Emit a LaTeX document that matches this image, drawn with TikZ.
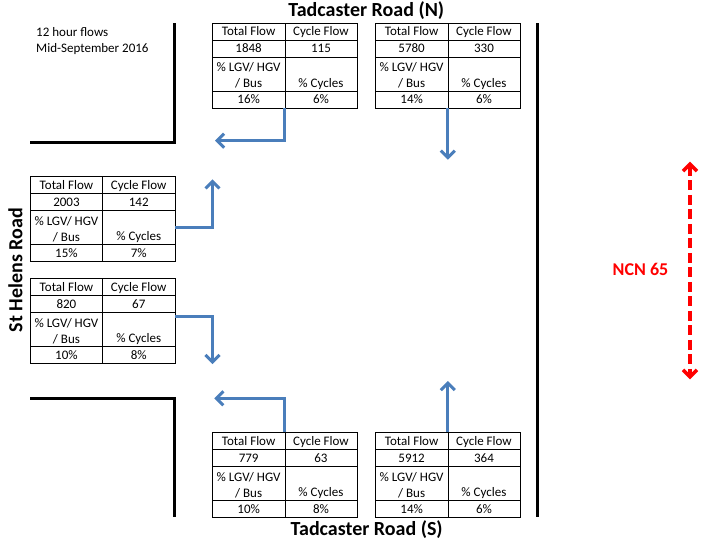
\documentclass[tikz,border=0pt]{standalone}
\usepackage{fontspec}
\setmainfont{Carlito}
\usepackage{tikz}
\usetikzlibrary{positioning, arrows.meta}
\definecolor{flowblue}{HTML}{4A7EBB}

% one count table: name, top left corner, total, cycle, lgv, cycles
\newcommand{\flowtable}[6]{%
  \node[cell, anchor=north west] (#1-a) at #2 {Total Flow};
  \node[cell, right=0pt of #1-a] (#1-b) {Cycle Flow};
  \node[cell, below=0pt of #1-a] (#1-c) {#3};
  \node[cell, below=0pt of #1-b] (#1-d) {#4};
  \node[tallcell, below=0pt of #1-c] (#1-e) {\rule{0pt}{13pt}\% LGV/ HGV\\/ Bus};
  \node[tallcell, below=0pt of #1-d] (#1-f) {\rule{0pt}{13pt}\\\% Cycles};
  \node[cell, below=0pt of #1-e] (#1-g) {#5};
  \node[cell, below=0pt of #1-f] (#1-h) {#6};
}

\begin{document}
\begin{tikzpicture}[x=1pt, y=-1pt, font=\fontsize{13}{16}\selectfont,
    cell/.style={draw, thin, inner sep=0pt, outer sep=0pt, minimum width=72.3pt, minimum height=17pt, text height=9.5pt, text depth=0pt},
    tallcell/.style={draw, thin, inner sep=0pt, outer sep=0pt, minimum width=72.3pt, minimum height=34pt, align=center},
    kerb/.style={line width=3pt},
    flow/.style={flowblue, line width=3pt, -{Straight Barb[length=7pt, width=14pt]}},
    route/.style={red, line width=3.5pt, dash pattern=on 10pt off 4.5pt, {Straight Barb[length=7pt, width=14pt]}-{Straight Barb[length=7pt, width=14pt]}},
    title/.style={font=\fontsize{20}{24}\selectfont\bfseries}]
  \useasboundingbox (0,0) rectangle (702,544);

  % Road edges
  \draw[kerb] (30,142.7) -| (174,23);
  \draw[kerb] (30,398.7) -| (174,517.3);
  \draw[kerb] (537.3,23) -- (537.3,517.3);

  % Labels
  \node[anchor=base west] (info1) at (32.7,36) {12 hour flows};
  \node[anchor=base west] (info2) at (32.7,52.7) {Mid-September 2016};
  \node[title, anchor=base] (tadn) at (366.3,16.7) {Tadcaster Road (N)};
  \node[title, anchor=base] (tads) at (366.7,535.7) {Tadcaster Road (S)};
  \node[title, anchor=base, rotate=90] (sthelens) at (22.5,270) {St Helens Road};
  \node[anchor=base, red, font=\fontsize{18}{22}\selectfont\bfseries] (ncn) at (640.5,275) {NCN 65};

  % Tables
  \flowtable{tn1}{(212.5,22.7)}{1848}{115}{16\%}{6\%}
  \flowtable{tn2}{(375.5,22.7)}{5780}{330}{14\%}{6\%}
  \flowtable{sh1}{(30.3,176)}{2003}{142}{15\%}{7\%}
  \flowtable{sh2}{(30.3,278)}{820}{67}{10\%}{8\%}
  \flowtable{ts1}{(212.5,432)}{779}{63}{10\%}{8\%}
  \flowtable{ts2}{(375.5,432)}{5912}{364}{14\%}{6\%}

  % Turning movements
  \coordinate (tn1-out) at (215,140.7);
  \coordinate (tn2-out) at ([yshift=-52pt]tn2-g.south east);
  \coordinate (sh1-out) at (212.5,179.3);
  \coordinate (sh2-out) at (212.5,364);
  \coordinate (ts1-out) at (214.3,398.3);
  \coordinate (ts2-out) at ([yshift=51pt]ts2-a.north east);
  \draw[flow] (tn1-g.south east) |- (tn1-out);
  \draw[flow] (tn2-g.south east) -- (tn2-out);
  \draw[flow] (sh1-f.east) -| (sh1-out);
  \draw[flow] ([yshift=-4pt]sh2-f.north east) -| (sh2-out);
  \draw[flow] (ts1-a.north east) |- (ts1-out);
  \draw[flow] (ts2-a.north east) -- (ts2-out);

  % Cycle route
  \coordinate (ncn-top) at (690,161.7);
  \coordinate (ncn-bot) at (690,379.3);
  \draw[route] (ncn-top) -- (ncn-bot);
\end{tikzpicture}
\end{document}
